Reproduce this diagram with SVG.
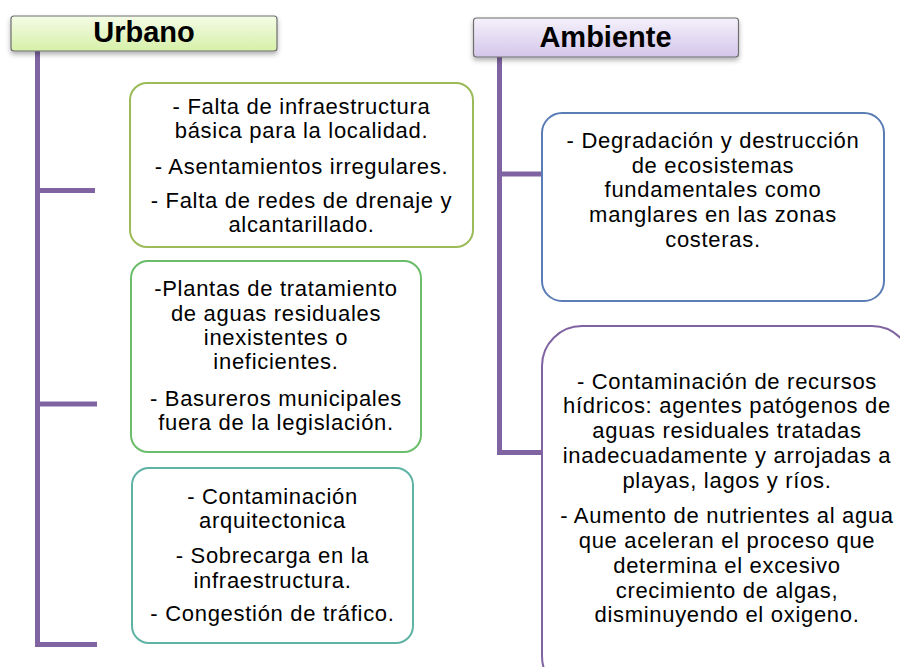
<svg xmlns="http://www.w3.org/2000/svg" width="900" height="667" viewBox="0 0 900 667">
<defs>
<linearGradient id="gU" x1="0" y1="0" x2="0" y2="1"><stop offset="0" stop-color="#f4fce6"/><stop offset="1" stop-color="#d6f0a8"/></linearGradient>
<linearGradient id="gA" x1="0" y1="0" x2="0" y2="1"><stop offset="0" stop-color="#f5f1fb"/><stop offset="1" stop-color="#d3c6ea"/></linearGradient>
<linearGradient id="fade" x1="0" y1="0" x2="1" y2="0"><stop offset="0" stop-color="#e6e0f0"/><stop offset="1" stop-color="#f4f1f8"/></linearGradient>
<filter id="sh" x="-10%" y="-30%" width="120%" height="180%"><feDropShadow dx="0" dy="3" stdDeviation="2.5" flood-color="#000" flood-opacity="0.3"/></filter>
</defs>
<style>
.hdr{stroke:#6e6e6e;stroke-width:1.2}
.ht{font-family:"Liberation Sans",Arial,sans-serif;font-weight:bold;font-size:29px;fill:#000;text-anchor:middle}
.t{font-family:"Liberation Sans",Arial,sans-serif;font-size:22px;letter-spacing:0.7px;fill:#000;text-anchor:middle}
.box{fill:#fff;stroke-width:2}
.ln{stroke:#8064a2;stroke-width:5;fill:none}
</style>
<rect width="900" height="667" fill="#fff"/>
<g id="connectors">
<path class="ln" d="M37.5,51 V644.5 H97 M37.5,190.5 H95 M37.5,404 H97"/>
<path class="ln" d="M499.5,57 V452.5 H542 M499.5,174 H542"/>
<rect x="542" y="171.5" width="15" height="5" fill="url(#fade)"/>
<rect x="542" y="450" width="16" height="5" fill="url(#fade)"/>
</g>
<g id="urbano">
<rect class="hdr" x="11" y="16" width="266" height="35" rx="3" fill="url(#gU)" filter="url(#sh)"/>
<text class="ht" x="144" y="42">Urbano</text>
</g>
<g id="ambiente">
<rect class="hdr" x="473.5" y="18" width="265" height="39" rx="3" fill="url(#gA)" filter="url(#sh)"/>
<text class="ht" x="605.5" y="47">Ambiente</text>
</g>
<g id="box1">
<rect class="box" x="130" y="83" width="343" height="164" rx="17" stroke="#9bbb59"/>
<text class="t" x="301.5" y="114">- Falta de infraestructura</text>
<text class="t" x="301.5" y="138">básica para la localidad.</text>
<text class="t" x="301.5" y="174">- Asentamientos irregulares.</text>
<text class="t" x="301.5" y="208">- Falta de redes de drenaje y</text>
<text class="t" x="301.5" y="232">alcantarillado.</text>
</g>
<g id="box2">
<rect class="box" x="131" y="261" width="290" height="191" rx="17" stroke="#6abd6a"/>
<text class="t" x="276" y="296">-Plantas de tratamiento</text>
<text class="t" x="276" y="321">de aguas residuales</text>
<text class="t" x="276" y="345">inexistentes o</text>
<text class="t" x="276" y="369">ineficientes.</text>
<text class="t" x="276" y="406">- Basureros municipales</text>
<text class="t" x="276" y="430">fuera de la legislación.</text>
</g>
<g id="box3">
<rect class="box" x="132" y="468" width="281" height="175" rx="17" stroke="#5fb3a5"/>
<text class="t" x="272.5" y="504">- Contaminación</text>
<text class="t" x="272.5" y="528">arquitectonica</text>
<text class="t" x="272.5" y="563">- Sobrecarga en la</text>
<text class="t" x="272.5" y="588">infraestructura.</text>
<text class="t" x="272.5" y="621">- Congestión de tráfico.</text>
</g>
<g id="box4">
<rect class="box" x="542" y="113" width="342" height="188" rx="20" stroke="#5b7db5"/>
<text class="t" x="713" y="148">- Degradación y destrucción</text>
<text class="t" x="713" y="173">de ecosistemas</text>
<text class="t" x="713" y="197">fundamentales como</text>
<text class="t" x="713" y="222">manglares en las zonas</text>
<text class="t" x="713" y="247">costeras.</text>
</g>
<g id="box5">
<rect class="box" x="542" y="326" width="370" height="370" rx="40" stroke="#8064a2"/>
<text class="t" x="727" y="389">- Contaminación de recursos</text>
<text class="t" x="727" y="413">hídricos: agentes patógenos de</text>
<text class="t" x="727" y="438">aguas residuales tratadas</text>
<text class="t" x="727" y="463">inadecuadamente y arrojadas a</text>
<text class="t" x="727" y="488">playas, lagos y ríos.</text>
<text class="t" x="727" y="523">- Aumento de nutrientes al agua</text>
<text class="t" x="727" y="548">que aceleran el proceso que</text>
<text class="t" x="727" y="573">determina el excesivo</text>
<text class="t" x="727" y="598">crecimiento de algas,</text>
<text class="t" x="727" y="622">disminuyendo el oxigeno.</text>
</g>
</svg>
